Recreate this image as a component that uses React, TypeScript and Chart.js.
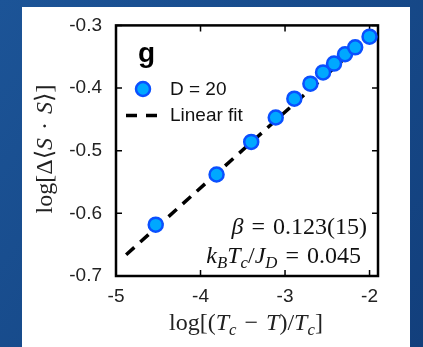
import React, { useEffect, useRef } from "react";
import { Chart, registerables } from "chart.js";

Chart.register(...registerables);

// ---- data ----
const xValues = [-4.53, -3.81, -3.4, -3.11, -2.89, -2.7, -2.55, -2.42, -2.29, -2.17, -2.0];
const yValues = [-0.618, -0.538, -0.486, -0.447, -0.417, -0.393, -0.375, -0.361, -0.346, -0.335, -0.318];
const fitX = [-4.88, -1.9];
const fitY = [-0.666, -0.305];
const xTicks = [-5, -4, -3, -2];
const yTicks = [-0.7, -0.6, -0.5, -0.4, -0.3];
const seriesLabel = "D = 20";
const fitLabel = "Linear fit";
const panelLabel = "g";

type Seg = { t: string; i?: boolean; sub?: boolean };
const SERIF = '"Liberation Serif", "DejaVu Serif", serif';
const SANS = '"Liberation Sans", Arial, sans-serif';
const SP = "\u2004";

const yTitle: Seg[] = [{ t: "log[Δ⟨" }, { t: "S", i: true }, { t: SP + "·" + SP }, { t: "S", i: true }, { t: "⟩]" }];
const xTitle: Seg[] = [
  { t: "log[(" },
  { t: "T", i: true },
  { t: "c", i: true, sub: true },
  { t: SP + "−" + SP },
  { t: "T", i: true },
  { t: ")/" },
  { t: "T", i: true },
  { t: "c", i: true, sub: true },
  { t: "]" },
];
const betaText: Seg[] = [{ t: "β", i: true }, { t: SP + "=" + SP + "0.123(15)" }];
const tcText: Seg[] = [
  { t: "k", i: true },
  { t: "B", i: true, sub: true },
  { t: "T", i: true },
  { t: "c", i: true, sub: true },
  { t: "/" },
  { t: "J", i: true },
  { t: "D", i: true, sub: true },
  { t: SP + "=" + SP + "0.045" },
];

function segFont(s: Seg, size: number) {
  const sz = s.sub ? size * 0.7 : size;
  return `${s.i ? "italic " : ""}${sz}px ${SERIF}`;
}
function measureRich(ctx: CanvasRenderingContext2D, segs: Seg[], size: number) {
  let w = 0;
  for (const s of segs) {
    ctx.font = segFont(s, size);
    w += ctx.measureText(s.t).width;
  }
  return w;
}
function drawRich(ctx: CanvasRenderingContext2D, segs: Seg[], x: number, y: number, size: number) {
  let cx = x;
  ctx.textAlign = "left";
  ctx.textBaseline = "alphabetic";
  for (const s of segs) {
    ctx.font = segFont(s, size);
    ctx.fillText(s.t, cx, y + (s.sub ? size * 0.22 : 0));
    cx += ctx.measureText(s.t).width;
  }
}

const decorPlugin = {
  id: "decor",
  beforeDraw(chart: any) {
    const ctx = chart.ctx as CanvasRenderingContext2D;
    const W = chart.width;
    const H = chart.height;
    ctx.save();
    const g = ctx.createLinearGradient(0, 0, W, H);
    g.addColorStop(0, "#1c5497");
    g.addColorStop(0.5, "#174a8a");
    g.addColorStop(1, "#123f7c");
    ctx.fillStyle = g;
    ctx.fillRect(0, 0, W, H);
    ctx.fillStyle = "#ffffff";
    ctx.fillRect(22, 7, 388, H - 7);
    ctx.restore();
  },
  beforeDatasetsDraw(chart: any) {
    const ctx = chart.ctx as CanvasRenderingContext2D;
    const a = chart.chartArea;
    const xs = chart.scales.x;
    const ys = chart.scales.y;
    ctx.save();
    ctx.strokeStyle = "#000";
    ctx.lineWidth = 1.5;
    const tl = 6;
    ctx.beginPath();
    for (const v of xTicks) {
      const px = xs.getPixelForValue(v);
      ctx.moveTo(px, a.bottom);
      ctx.lineTo(px, a.bottom - tl);
      ctx.moveTo(px, a.top);
      ctx.lineTo(px, a.top + tl);
    }
    for (const v of yTicks) {
      const py = ys.getPixelForValue(v);
      ctx.moveTo(a.left, py);
      ctx.lineTo(a.left + tl, py);
      ctx.moveTo(a.right, py);
      ctx.lineTo(a.right - tl, py);
    }
    ctx.stroke();
    ctx.lineWidth = 2.5;
    ctx.strokeRect(a.left, a.top, a.right - a.left, a.bottom - a.top);
    ctx.restore();
  },
  afterDraw(chart: any) {
    const ctx = chart.ctx as CanvasRenderingContext2D;
    ctx.save();
    ctx.fillStyle = "#222";
    // axis titles
    const fs = 24;
    const wx = measureRich(ctx, xTitle, fs);
    drawRich(ctx, xTitle, 246 - wx / 2, 330, fs);
    const wy = measureRich(ctx, yTitle, fs);
    ctx.save();
    ctx.translate(52, 149);
    ctx.rotate(-Math.PI / 2);
    drawRich(ctx, yTitle, -wy / 2, 0, fs);
    ctx.restore();
    // annotations
    ctx.fillStyle = "#111";
    const wb = measureRich(ctx, betaText, fs);
    drawRich(ctx, betaText, 367 - wb, 234, fs);
    const wt = measureRich(ctx, tcText, fs);
    drawRich(ctx, tcText, 361 - wt, 263, fs);
    // panel label
    ctx.fillStyle = "#000";
    ctx.font = `bold 28px ${SANS}`;
    ctx.textAlign = "left";
    ctx.textBaseline = "alphabetic";
    ctx.fillText(panelLabel, 138, 62);
    // legend
    ctx.beginPath();
    ctx.arc(143, 89, 7, 0, Math.PI * 2);
    ctx.fillStyle = "#00a8ff";
    ctx.fill();
    ctx.lineWidth = 2.5;
    ctx.strokeStyle = "#0a50ff";
    ctx.stroke();
    ctx.beginPath();
    ctx.setLineDash([11, 9]);
    ctx.lineWidth = 3.5;
    ctx.strokeStyle = "#000";
    ctx.moveTo(126, 115.5);
    ctx.lineTo(158, 115.5);
    ctx.stroke();
    ctx.setLineDash([]);
    ctx.fillStyle = "#111";
    ctx.font = `19px ${SANS}`;
    ctx.textBaseline = "middle";
    ctx.fillText(seriesLabel, 170, 90);
    ctx.fillText(fitLabel, 170, 116);
    ctx.restore();
  },
};

export default function App() {
  const ref = useRef<HTMLCanvasElement | null>(null);
  useEffect(() => {
    if (!ref.current) return;
    const chart = new Chart(ref.current, {
      type: "scatter",
      data: {
        datasets: [
          {
            label: seriesLabel,
            data: xValues.map((x, i) => ({ x, y: yValues[i] })),
            pointRadius: 7,
            pointBackgroundColor: "#00a8ff",
            pointBorderColor: "#0a50ff",
            pointBorderWidth: 2.5,
            showLine: false,
            order: 1,
          },
          {
            label: fitLabel,
            data: fitX.map((x, i) => ({ x, y: fitY[i] })),
            showLine: true,
            borderColor: "#000",
            borderWidth: 3.5,
            borderDash: [11, 8],
            pointRadius: 0,
            order: 2,
          },
        ],
      },
      options: {
        animation: false,
        responsive: false,
        devicePixelRatio: 1,
        layout: { padding: { top: 23, right: 45, left: 0, bottom: 0 } },
        plugins: { legend: { display: false }, tooltip: { enabled: false } },
        scales: {
          x: {
            type: "linear",
            min: -5,
            max: -1.9,
            afterFit: (s: any) => {
              s.height = 71;
            },
            afterBuildTicks: (s: any) => {
              s.ticks = xTicks.map((v) => ({ value: v }));
            },
            grid: { display: false, drawTicks: false },
            border: { display: false },
            ticks: {
              padding: 9,
              color: "#222",
              font: { family: "Liberation Sans", size: 19 },
              maxRotation: 0,
              callback: (v: any) => String(v),
            },
          },
          y: {
            type: "linear",
            min: -0.7,
            max: -0.3,
            afterFit: (s: any) => {
              s.width = 116;
            },
            afterBuildTicks: (s: any) => {
              s.ticks = yTicks.map((v) => ({ value: v }));
            },
            grid: { display: false, drawTicks: false },
            border: { display: false },
            ticks: {
              padding: 14,
              color: "#222",
              font: { family: "Liberation Sans", size: 19 },
              callback: (v: any) => Number(v).toFixed(1),
            },
          },
        },
      },
      plugins: [decorPlugin],
    } as any);
    return () => chart.destroy();
  }, []);
  return (
    <div style={{ position: "fixed", left: 0, top: 0, width: 423, height: 347 }}>
      <canvas ref={ref} width={423} height={347} style={{ display: "block", width: 423, height: 347 }} />
    </div>
  );
}
